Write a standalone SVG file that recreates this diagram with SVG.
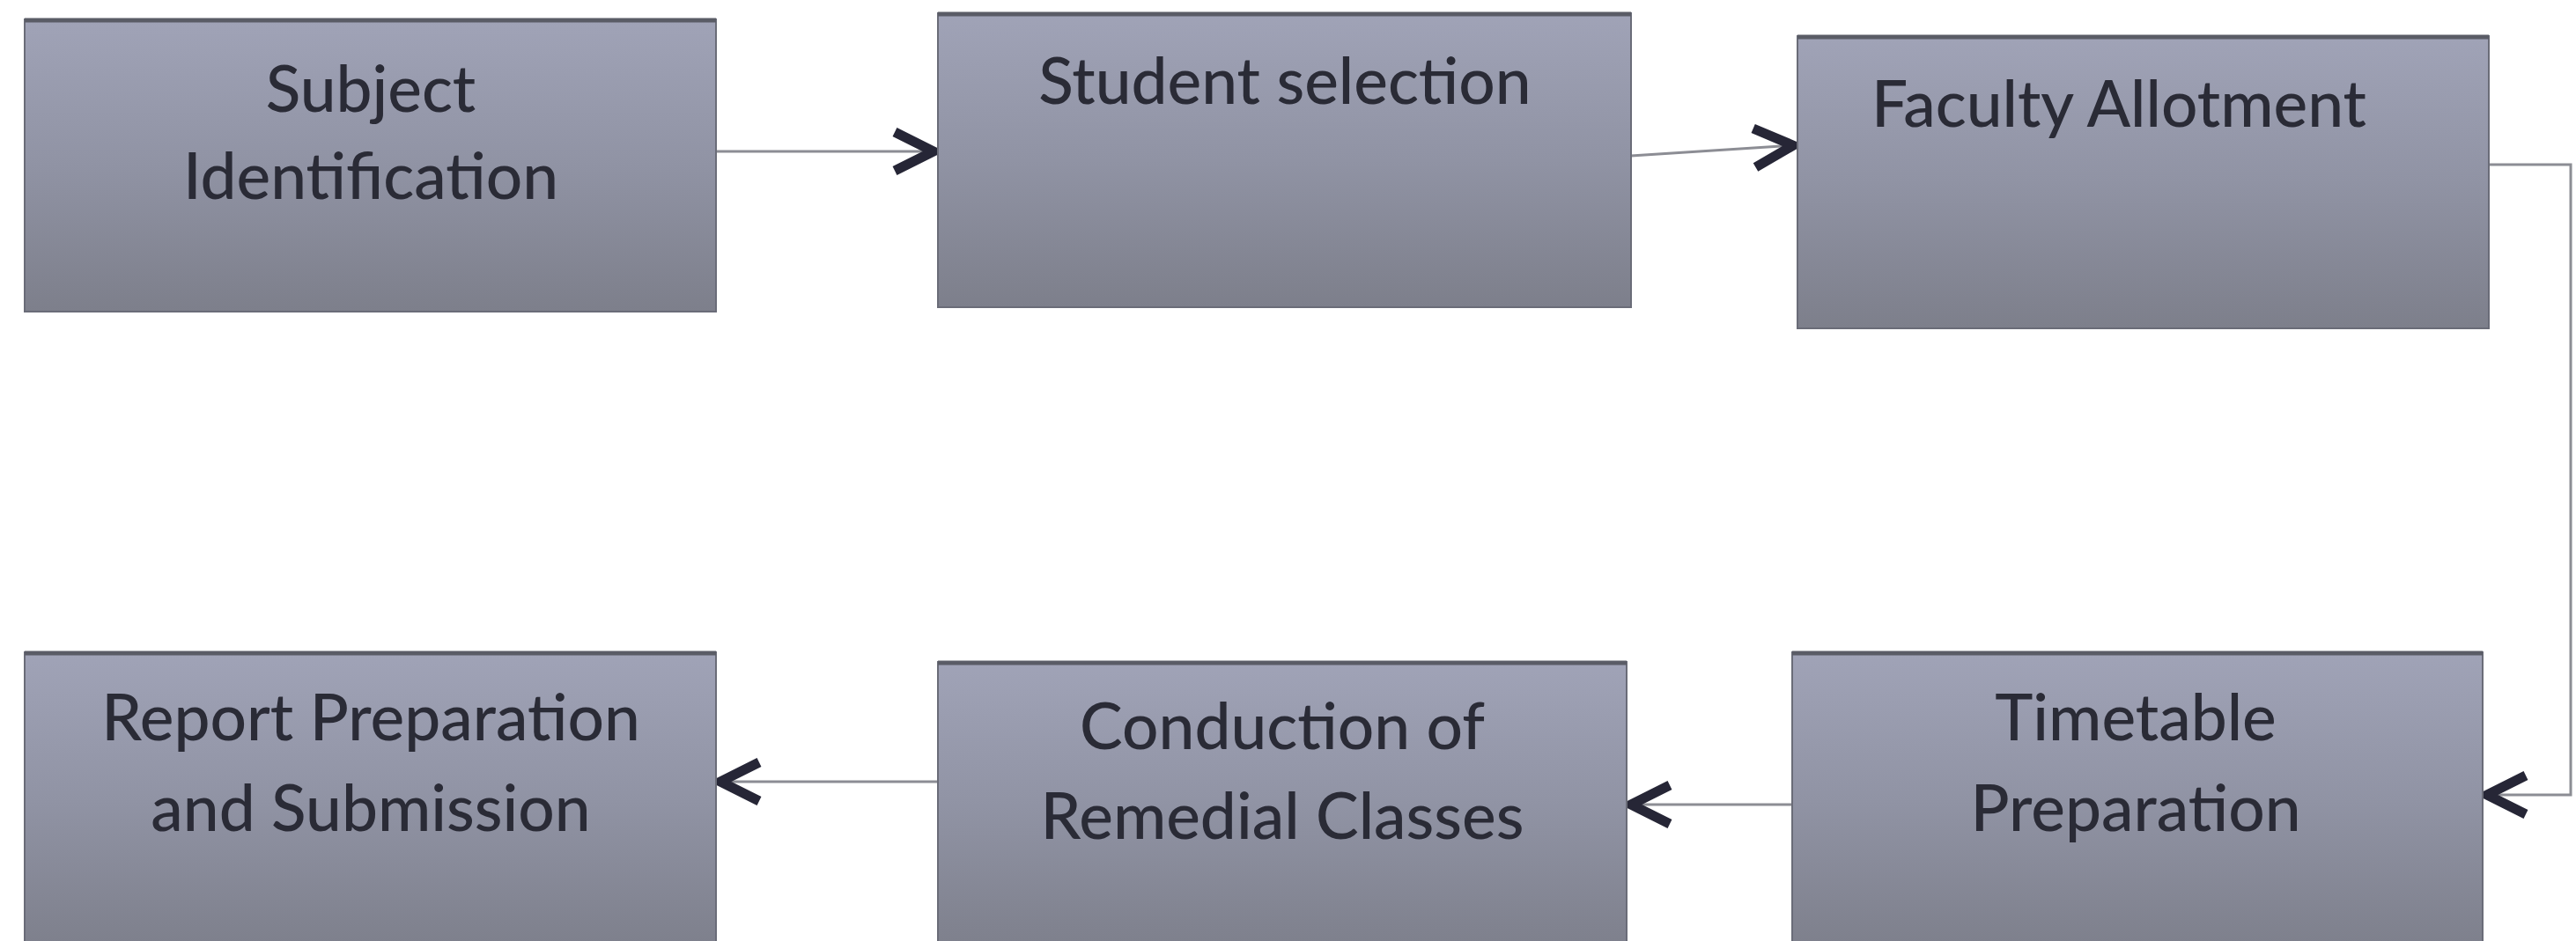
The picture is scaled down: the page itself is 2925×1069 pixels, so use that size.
<svg xmlns="http://www.w3.org/2000/svg" width="2925" height="1069" viewBox="0 0 2925 1069">
<style>
.box{fill:url(#g);stroke:#6a6c78;stroke-width:2}
.top{stroke:#5a5c66;stroke-width:5}
.t{font-family:Lato,"Open Sans","Liberation Sans",sans-serif;font-size:73px;font-weight:500;fill:#2a2b36;text-anchor:middle}
.c{fill:none;stroke:#8c8d94;stroke-width:3;marker-end:url(#ah)}
</style>
<defs>
<linearGradient id="g" x1="0" y1="0" x2="0" y2="1">
<stop offset="0" stop-color="#a0a3b7"/>
<stop offset="0.5" stop-color="#9093a4"/>
<stop offset="1" stop-color="#7d7f8b"/>
</linearGradient>
<marker id="ah" markerUnits="userSpaceOnUse" markerWidth="64" markerHeight="64" viewBox="0 0 64 64" refX="54" refY="32" orient="auto">
<path d="M7,10 L51,32 L7,54" fill="none" stroke="#262636" stroke-width="11" stroke-linejoin="miter"/>
</marker>
</defs>
<rect width="2925" height="1069" fill="#ffffff"/>
<g id="connectors">
<path class="c" d="M813,172 L1063,172"/>
<path class="c" d="M1852,177 L2039,165"/>
<path class="c" d="M2826,187 L2919,187 L2919,903 L2821,903"/>
<path class="c" d="M2035,914 L1849,914"/>
<path class="c" d="M1065,888 L815,888"/>
</g>
<g id="n1">
<rect class="box" x="28" y="22" width="785" height="332"/>
<line class="top" x1="28" y1="23" x2="813" y2="23"/>
<text class="t" x="421" y="127">Subject</text>
<text class="t" x="421" y="226">Identification</text>
</g>
<g id="n2">
<rect class="box" x="1065" y="15" width="787" height="334"/>
<line class="top" x1="1065" y1="16" x2="1852" y2="16"/>
<text class="t" x="1459" y="118">Student selection</text>
</g>
<g id="n3">
<rect class="box" x="2041" y="41" width="785" height="332"/>
<line class="top" x1="2041" y1="42" x2="2826" y2="42"/>
<text class="t" x="2406" y="144">Faculty Allotment</text>
</g>
<g id="n4">
<rect class="box" x="28" y="741" width="785" height="340"/>
<line class="top" x1="28" y1="742" x2="813" y2="742"/>
<text class="t" x="421" y="841">Report Preparation</text>
<text class="t" x="421" y="944">and Submission</text>
</g>
<g id="n5">
<rect class="box" x="1065" y="752" width="782" height="330"/>
<line class="top" x1="1065" y1="753" x2="1847" y2="753"/>
<text class="t" x="1456" y="851">Conduction of</text>
<text class="t" x="1456" y="953">Remedial Classes</text>
</g>
<g id="n6">
<rect class="box" x="2035" y="741" width="784" height="340"/>
<line class="top" x1="2035" y1="742" x2="2819" y2="742"/>
<text class="t" x="2425" y="841">Timetable</text>
<text class="t" x="2425" y="944">Preparation</text>
</g>
</svg>
